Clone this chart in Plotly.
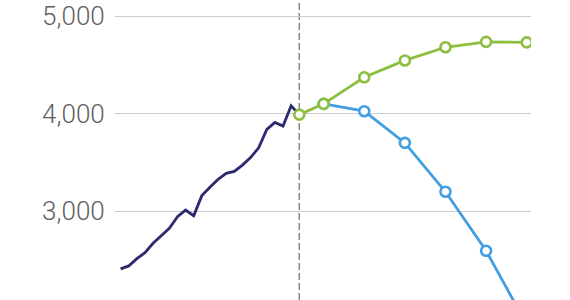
import plotly.graph_objects as go

# Historical series (annual)
hist_years = list(range(1995, 2018))
hist_values = [2410, 2440, 2515, 2575, 2672, 2750, 2825, 2944, 3012, 2954,
               3160, 3245, 3328, 3388, 3408, 3473, 3550, 3650, 3838, 3910,
               3872, 4080, 3990]

# Projection: high scenario (green)
high_years = [2017, 2020, 2025, 2030, 2035, 2040, 2045]
high_values = [3990, 4100, 4372, 4545, 4680, 4735, 4730]

# Projection: low scenario (blue)
low_years = [2020, 2025, 2030, 2035, 2040, 2045]
low_values = [4100, 4025, 3700, 3200, 2595, 1840]

y_ticks = [2000, 3000, 4000, 5000]
y_tick_text = ["2,000", "3,000", "4,000", "5,000"]
divider_year = 2017

NAVY = "#2d2a6e"
GREEN = "#8cbe3f"
BLUE = "#419ee0"

fig = go.Figure()
fig.add_trace(go.Scatter(x=hist_years, y=hist_values, mode="lines",
                         line=dict(color=NAVY, width=2.8), showlegend=False))
fig.add_trace(go.Scatter(x=low_years, y=low_values, mode="lines+markers",
                         line=dict(color=BLUE, width=2.8),
                         marker=dict(size=10, color="white", line=dict(color=BLUE, width=2.6)),
                         showlegend=False))
fig.add_trace(go.Scatter(x=high_years, y=high_values, mode="lines+markers",
                         line=dict(color=GREEN, width=2.8),
                         marker=dict(size=10, color="white", line=dict(color=GREEN, width=2.6)),
                         showlegend=False))

fig.add_shape(type="line", xref="x", yref="paper", x0=divider_year, x1=divider_year,
              y0=0, y1=1, line=dict(color="#888888", width=1.5, dash="7px,3px"), layer="below")

fig.update_layout(
    width=570, height=300,
    margin=dict(l=115, r=39, t=0, b=0),
    paper_bgcolor="white", plot_bgcolor="white",
    font=dict(family="Roboto, Arial, sans-serif", size=26, color="#606060", weight=300),
    xaxis=dict(range=[1994.31, 2045.53], showgrid=False, zeroline=False,
               showticklabels=False, ticks="", showline=False),
    yaxis=dict(range=[2091, 5164], tickvals=y_ticks, ticktext=y_tick_text,
               showgrid=True, gridcolor="#cccccc", gridwidth=1, zeroline=False,
               showline=False, ticks="outside", ticklen=4, tickcolor="rgba(0,0,0,0)"),
)

fig.write_html("out.html")
